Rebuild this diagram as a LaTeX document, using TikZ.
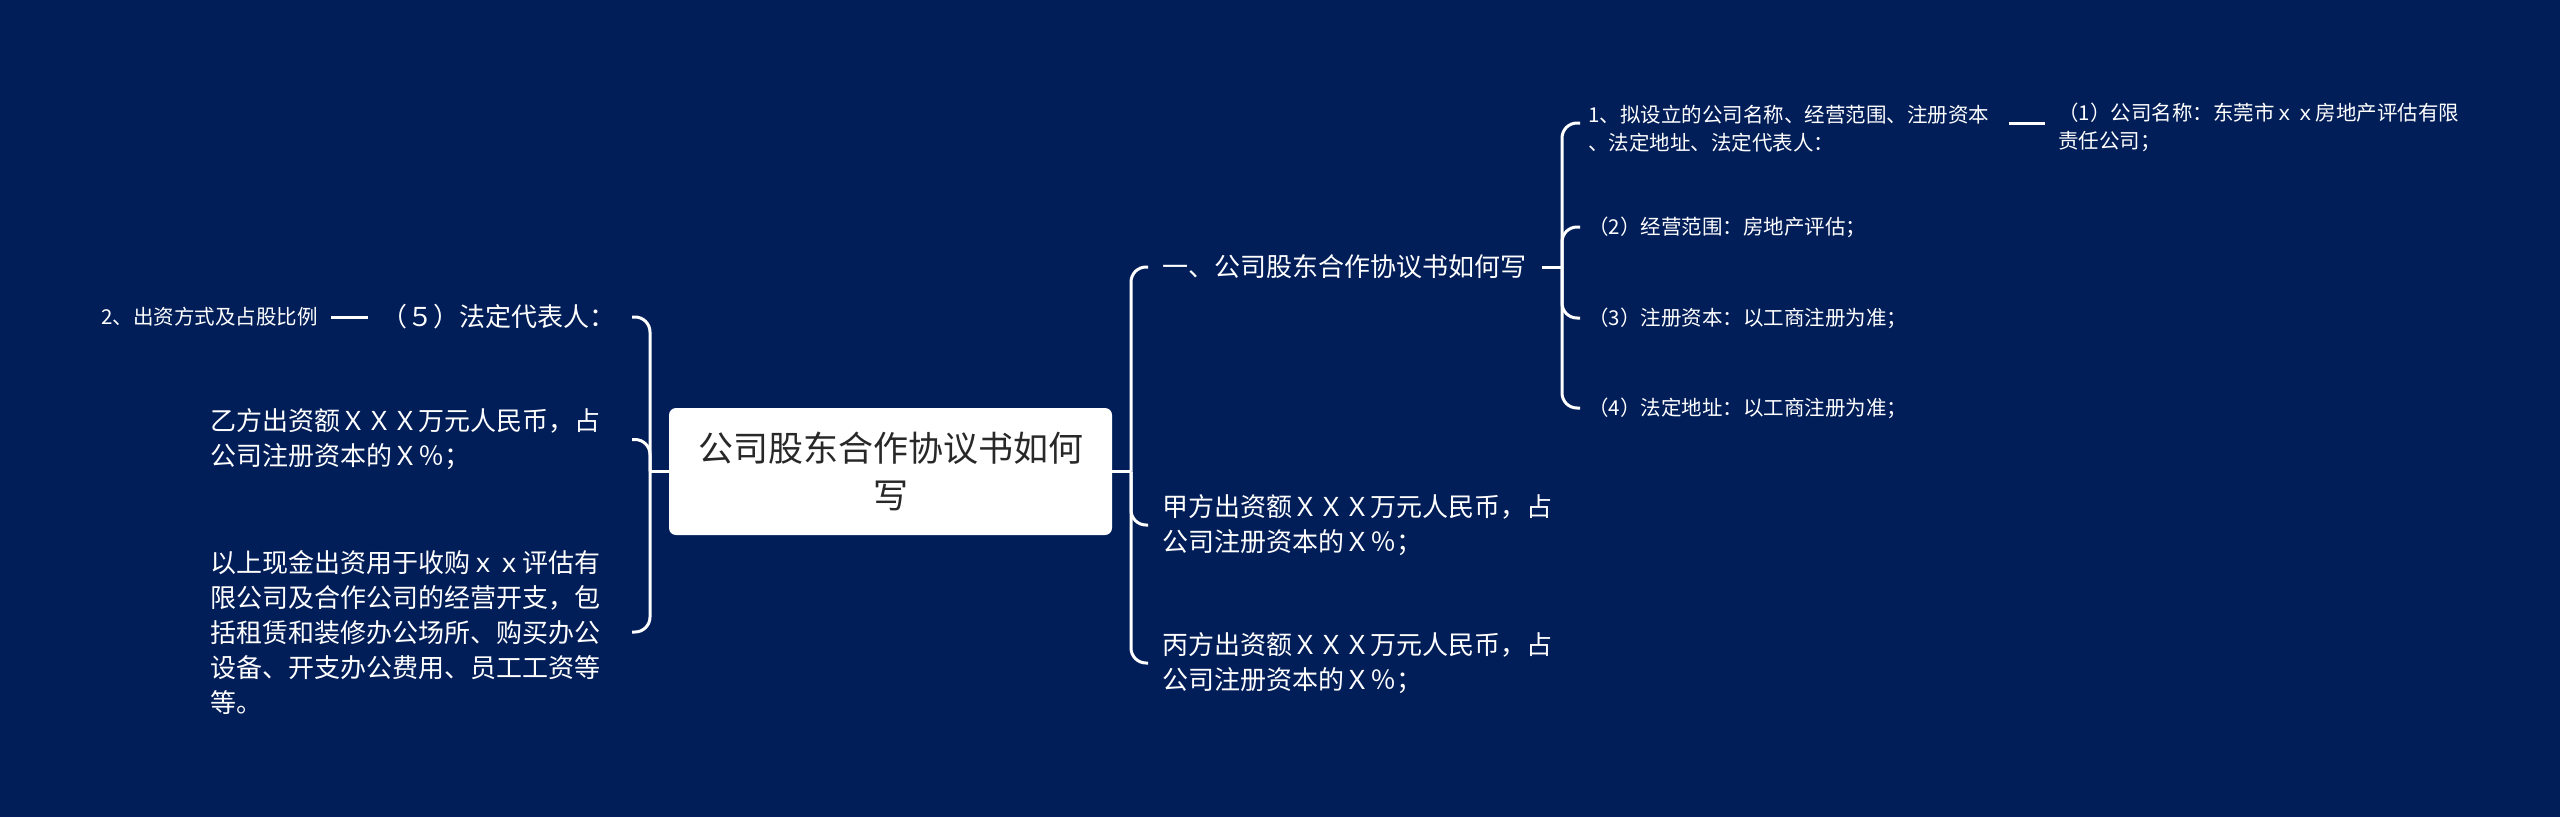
\documentclass[tikz,border=0pt]{standalone}
\usepackage{fontspec}
\setmainfont{Noto Sans CJK SC}
\definecolor{bg}{RGB}{2,30,88}
\definecolor{roottext}{RGB}{40,40,40}
\tikzset{
  txt/.style={text=white, inner sep=0pt, align=left, anchor=west},
  big/.style={font=\fontsize{26pt}{35pt}\selectfont},
  small/.style={font=\fontsize{20.5pt}{28pt}\selectfont},
  conn/.style={draw=white, line width=3pt},
  brace/.style={conn, rounded corners=15pt},
  rootbox/.style={fill=white, rounded corners=7pt, text=roottext, align=center,
    minimum width=443pt, minimum height=127pt, inner sep=0pt,
    font=\fontsize{35pt}{47pt}\selectfont}
}
\begin{document}
\begin{tikzpicture}[x=1pt,y=-1pt]
\fill[bg] (0,0) rectangle (2560,817);
\useasboundingbox (0,0) rectangle (2560,817);

% root
\node[rootbox] (root) at (890.5,471.5) {公司股东合作协议书如何\\写};

% right level 1
\node[txt,big] (A) at (1162,267) {一、公司股东合作协议书如何写};
\node[txt,big] (B) at (1162,525) {甲方出资额ＸＸＸ万元人民币，占\\公司注册资本的Ｘ％；};
\node[txt,big] (C) at (1162,663) {丙方出资额ＸＸＸ万元人民币，占\\公司注册资本的Ｘ％；};

% right level 2
\node[txt,small] (D) at (1588,129) {1、拟设立的公司名称、经营范围、注册资本\\、法定地址、法定代表人：};
\node[txt,small] (E) at (1588,227) {（2）经营范围：房地产评估；};
\node[txt,small] (F) at (1588,318) {（3）注册资本：以工商注册为准；};
\node[txt,small] (G) at (1588,408) {（4）法定地址：以工商注册为准；};
\node[txt,small] (H) at (2058,127) {（1）公司名称：东莞市ｘｘ房地产评估有限\\责任公司；};

% left level 1
\node[txt,big] (I) at (381,317) {（５）法定代表人：};
\node[txt,big] (K) at (210,439.5) {乙方出资额ＸＸＸ万元人民币，占\\公司注册资本的Ｘ％；};
\node[txt,big] (L) at (210,632) {以上现金出资用于收购ｘｘ评估有\\限公司及合作公司的经营开支，包\\括租赁和装修办公场所、购买办公\\设备、开支办公费用、员工工资等\\等。};

% left level 2
\node[txt,small] (J) at (101,317) {2、出资方式及占股比例};

% helper coordinates
\coordinate (rj) at (1131,471.5);
\coordinate (rx) at (1148,0);
\coordinate (lj) at (650,471.5);
\coordinate (lx) at (632,0);
\coordinate (ajx) at (1562,0);
\coordinate (ax) at (1580,0);

% root connectors
\draw[conn] (root.east) -- (rj);
\draw[conn] (root.west) -- (lj);
\draw[brace] (rj) |- (rx |- A.west);
\draw[brace] (rj) |- (rx |- B.west);
\draw[brace] (rj) |- (rx |- C.west);
\draw[brace] (lj) |- (lx |- I.east);
\draw[brace] (lj) |- (lx |- K.east);
\draw[brace] (lj) |- (lx |- L.east);

% A children
\coordinate (aj) at (A.east -| ajx);
\draw[conn, shorten <=16pt] (A.east) -- (aj);
\draw[brace] (aj) |- ([yshift=6pt]ax |- D.west);
\draw[brace] (aj) |- (ax |- E.west);
\draw[brace] (aj) |- (ax |- F.west);
\draw[brace] (aj) |- (ax |- G.west);

% D -> H
\draw[conn, shorten <=20pt, shorten >=13pt] ([yshift=6pt]D.east) -- ([yshift=6pt]D.east -| H.west);

% I -> J
\draw[conn, shorten <=13pt, shorten >=13pt] (I.west) -- (J.east);
\end{tikzpicture}
\end{document}
